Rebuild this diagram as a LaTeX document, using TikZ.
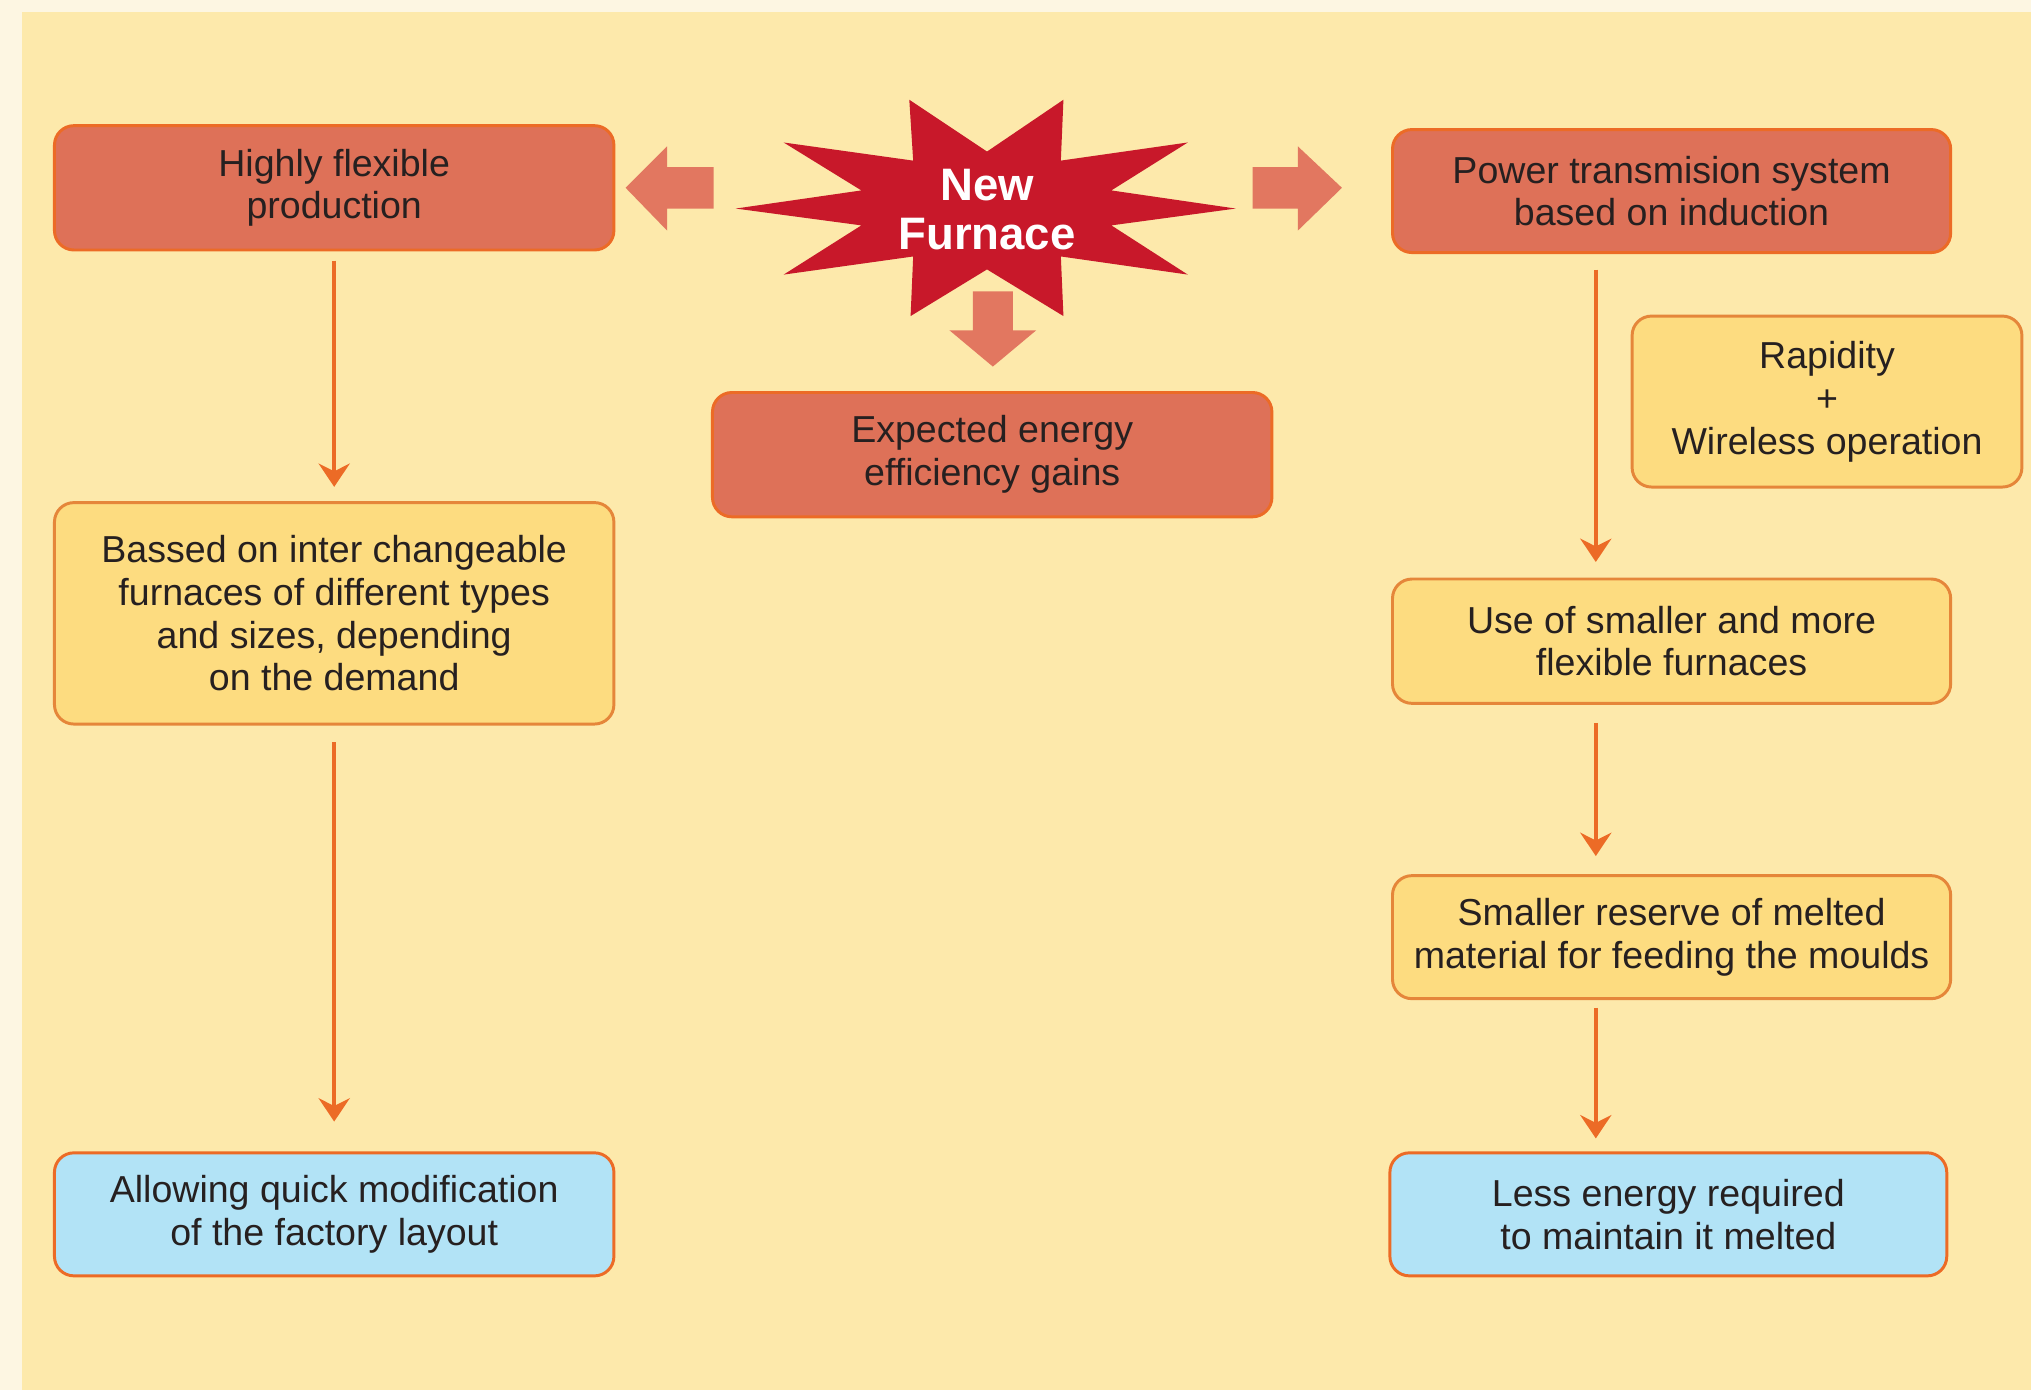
\documentclass[tikz,border=0pt]{standalone}
\usepackage{fontspec}
\setmainfont{Liberation Sans}
\usetikzlibrary{arrows.meta}
\definecolor{bgout}{HTML}{FDF6E2}
\definecolor{bgmain}{HTML}{FDE9AB}
\definecolor{redfill}{HTML}{DE7158}
\definecolor{orangeline}{HTML}{EC6B26}
\definecolor{yborder}{HTML}{E5863A}
\definecolor{yellowfill}{HTML}{FDDC80}
\definecolor{bluefill}{HTML}{B2E3F6}
\definecolor{starred}{HTML}{C8182A}
\definecolor{blockarrow}{HTML}{E27760}
\definecolor{txt}{HTML}{262020}
\begin{document}
\begin{tikzpicture}[x=0.02cm,y=-0.02cm,
  box/.style={rectangle, rounded corners=0.3cm, draw=orangeline, line width=1.3pt,
    align=center, inner sep=0pt, text=txt, font=\fontsize{16.5}{18.8}\selectfont},
  redbox/.style={box, fill=redfill},
  yelbox/.style={box, fill=yellowfill, draw=yborder},
  bluebox/.style={box, fill=bluefill},
  wide/.style={minimum width=8.64cm},
  conn/.style={draw=orangeline, line width=1.7pt,
    -{Stealth[length=0.36cm,width=0.48cm,inset=0.12cm]}},
  blk/.style={fill=blockarrow}
]
\useasboundingbox (0,0) rectangle (1568,1073);
\fill[bgout] (0,0) rectangle (1568,1073);
\fill[bgmain] (17,9) rectangle (1568,1073);

% star
\fill[starred] (702,77) -- (762,117) -- (821,77) -- (819,124) -- (917,110) -- (858,147)
  -- (954,161) -- (858,174) -- (917,212) -- (819,198) -- (821,244) -- (762,208)
  -- (703,244) -- (705,198) -- (605,212) -- (665,174) -- (568,161) -- (665,147)
  -- (605,110) -- (705,124) -- cycle;
\node[font=\fontsize{20}{21.6}\selectfont\bfseries, text=white, align=center, inner sep=0pt]
  (star) at (762,162) {New\\Furnace};

% block arrows
\fill[blk] (483,145) -- (515,113) -- (515,129) -- (551,129) -- (551,161) -- (515,161) -- (515,178) -- cycle;
\fill[blk] (1036,145) -- (1002,113) -- (1002,129) -- (967,129) -- (967,161) -- (1002,161) -- (1002,178) -- cycle;
\fill[blk] (766.5,283) -- (733,255) -- (751,255) -- (751,225) -- (782,225) -- (782,255) -- (800,255) -- cycle;

% boxes
\node[redbox, wide, minimum height=1.92cm] (flex) at (258,145) {Highly flexible\\production};
\node[yelbox, wide, minimum height=3.42cm] (bassed) at (258,473.5)
  {Bassed on inter changeable\\furnaces of different types\\and sizes, depending\\on the demand};
\node[bluebox, wide, minimum height=1.9cm] (allow) at (258,937.5)
  {Allowing quick modification\\of the factory layout};
\node[redbox, minimum width=8.62cm, minimum height=1.9cm] (power) at (1290.5,147.5)
  {Power transmision system\\based on induction};
\node[yelbox, minimum width=6.02cm, minimum height=2.64cm] (rapid) at (1410.5,310)
  {Rapidity\\+\\Wireless operation};
\node[yelbox, minimum width=8.62cm, minimum height=1.92cm] (use) at (1290.5,495)
  {Use of smaller and more\\flexible furnaces};
\node[yelbox, minimum width=8.62cm, minimum height=1.9cm] (reserve) at (1290.5,723.5)
  {Smaller reserve of melted\\material for feeding the moulds};
\node[bluebox, minimum width=8.6cm, minimum height=1.9cm] (less) at (1288,937.5)
  {Less energy required\\to maintain it melted};
\node[redbox, wide, minimum height=1.92cm] (expect) at (766,351)
  {Expected energy\\efficiency gains};

% connectors
\draw[conn, shorten <=0.14cm, shorten >=0.22cm] (flex.south) -- (bassed.north);
\draw[conn, shorten <=0.26cm, shorten >=0.46cm] (bassed.south) -- (allow.north);
\draw[conn, shorten <=0.24cm, shorten >=0.24cm] ([xshift=-1.17cm]power.south) -- ([xshift=-1.17cm]use.north);
\draw[conn, shorten <=0.28cm, shorten >=0.28cm] ([xshift=-1.17cm]use.south) -- ([xshift=-1.17cm]reserve.north);
\draw[conn, shorten <=0.12cm, shorten >=0.2cm] ([xshift=-1.17cm]reserve.south) -- ([xshift=-1.17cm]reserve.south |- less.north);
\end{tikzpicture}
\end{document}
